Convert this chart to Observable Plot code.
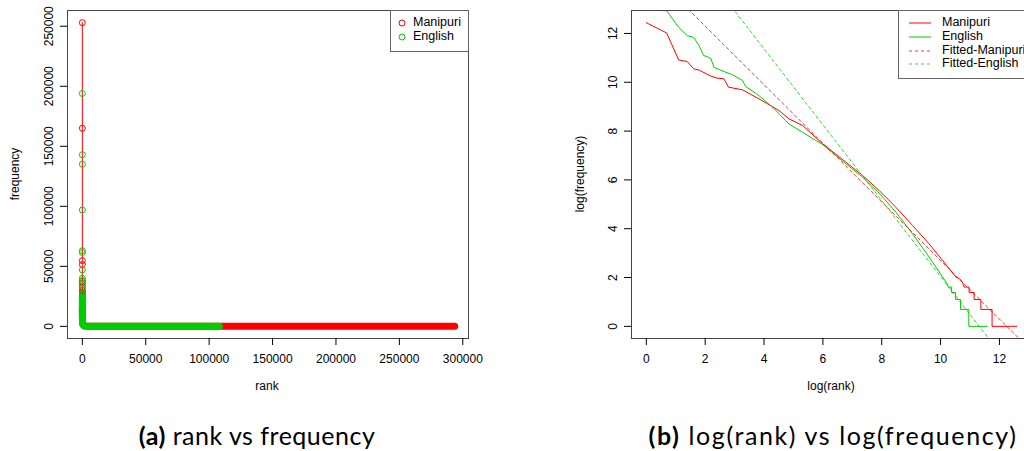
<!DOCTYPE html>
<html>
<head>
<meta charset="utf-8">
<script src="https://cdn.jsdelivr.net/npm/d3@7"></script>
<script src="https://cdn.jsdelivr.net/npm/@observablehq/plot@0.6"></script>
<style>
  html, body { margin: 0; padding: 0; background: #fff; overflow: hidden; }
  #root { position: relative; width: 1024px; height: 451px; font-family: "Liberation Sans", Arial, sans-serif; color: #000; }
  .abs { position: absolute; white-space: nowrap; line-height: 1; }
  .c { transform: translate(-50%, -50%); }
  .rot { transform: translate(-50%, -50%) rotate(-90deg); }
  .lbl { font-size: 12px; }
  .legend { position: absolute; border: 1px solid #666; background: #fff; box-sizing: border-box; }
  .caption { font-family: "Lato", "Noto Sans", sans-serif; font-size: 25px; letter-spacing: 0.5px; }
  #left { position: absolute; left: 0; top: 0; width: 512px; height: 400px; }
  #right { position: absolute; left: 512px; top: 0; width: 512px; height: 400px; overflow: hidden; }
  #left svg, #right svg { max-width: none !important; height: 400px !important; display: block; }
</style>
</head>
<body>
<div id="root">
  <div id="left"></div>
  <div id="right"></div>

  <div class="abs lbl c" style="left:267px; top:386px;">rank</div>
  <div class="abs lbl rot" style="left:15px; top:174px;">frequency</div>
  <div class="abs lbl c" style="left:831px; top:386px;">log(rank)</div>
  <div class="abs lbl rot" style="left:580px; top:174px;">log(frequency)</div>

  <div class="legend" style="left:390px; top:10px; width:79px; height:42px;"></div>
  <svg class="abs" style="left:390px; top:10px;" width="79" height="42">
    <circle cx="12" cy="13" r="3" fill="none" stroke="red" stroke-width="1"></circle>
    <circle cx="12" cy="27" r="3" fill="none" stroke="#00CD00" stroke-width="1"></circle>
  </svg>
  <div class="abs lbl" style="left:413px; top:16px; font-size:12.5px;">Manipuri</div>
  <div class="abs lbl" style="left:413px; top:30px; font-size:12.5px;">English</div>

  <div class="legend" style="left:898px; top:10px; width:140px; height:69px;"></div>
  <svg class="abs" style="left:898px; top:10px;" width="126" height="69">
    <line x1="11" x2="33" y1="13" y2="13" stroke="red" stroke-width="1"></line>
    <line x1="11" x2="33" y1="27" y2="27" stroke="#00CD00" stroke-width="1"></line>
    <line x1="11" x2="33" y1="41" y2="41" stroke="red" stroke-opacity="0.8" stroke-width="1" stroke-dasharray="3,3"></line>
    <line x1="11" x2="33" y1="54" y2="54" stroke="#00CD00" stroke-opacity="0.8" stroke-width="1" stroke-dasharray="3,3"></line>
  </svg>
  <div class="abs lbl" style="left:942px; top:16px; font-size:12.5px;">Manipuri</div>
  <div class="abs lbl" style="left:942px; top:30px; font-size:12.5px;">English</div>
  <div class="abs lbl" style="left:942px; top:44px; font-size:12.5px;">Fitted-Manipuri</div>
  <div class="abs lbl" style="left:942px; top:57px; font-size:12.5px;">Fitted-English</div>

  <div class="abs caption c" style="left:257px; top:435px;"><b>(a)</b> rank vs frequency</div>
  <div class="abs caption c" style="left:833px; top:435px; letter-spacing:1.6px;"><b>(b)</b> log(rank) vs log(frequency)</div>
</div>

<script>
// ---- Panel (a): top-ranked words (rank, frequency) ----
const manipuriTopRank = [1, 2, 3, 4, 5, 6, 7, 8, 9, 10, 11, 12];
const manipuriTopFreq = [253000, 165000, 54800, 51500, 38000, 36300, 33000, 30000, 28500, 27000, 25500, 24000];
const englishTopRank = [1, 2, 3, 4, 5, 6, 7, 8, 9, 10, 11, 12, 13, 14, 15, 16];
const englishTopFreq = [421000, 413000, 194000, 143000, 135000, 97000, 63000, 61500, 47000, 40000, 38000, 35000, 32000, 28000, 26000, 24000];

// ---- Panel (b): log(rank) vs log(frequency) ----
const manipuriLogRank = [0, 0.69, 1.10, 1.39, 1.61, 1.79, 2.20, 2.40, 2.64, 2.79, 3.27, 3.83, 4.51, 4.85, 5.31, 5.99, 6.78, 7.35, 7.91, 8.48, 9.05, 9.61, 10.07, 10.52, 10.65, 10.75, 10.80, 10.97, 10.97, 11.14, 11.14, 11.37, 11.37, 11.75, 11.75, 12.59];
const manipuriLogFreq = [12.44, 12.02, 10.91, 10.85, 10.55, 10.50, 10.25, 10.17, 10.14, 9.80, 9.69, 9.32, 8.84, 8.50, 8.23, 7.48, 6.73, 6.18, 5.57, 4.88, 4.13, 3.38, 2.70, 2.02, 1.946, 1.79, 1.609, 1.609, 1.386, 1.386, 1.0986, 1.0986, 0.693, 0.693, 0, 0];
const englishLogRank = [0, 0.69, 1.10, 1.39, 1.61, 1.79, 1.95, 2.08, 2.20, 2.30, 2.70, 2.93, 3.27, 3.38, 3.72, 3.89, 4.29, 4.85, 5.31, 5.99, 6.78, 7.35, 7.91, 8.48, 9.05, 9.61, 10.07, 10.20, 10.27, 10.37, 10.37, 10.51, 10.51, 10.68, 10.68, 10.96, 10.96, 11.59];
const englishLogFreq = [12.95, 12.93, 12.25, 11.91, 11.84, 11.50, 11.09, 11.05, 10.95, 10.61, 10.41, 10.31, 10.07, 9.82, 9.55, 9.39, 8.98, 8.29, 7.95, 7.45, 6.66, 6.11, 5.46, 4.68, 3.79, 2.84, 2.02, 1.79, 1.609, 1.609, 1.386, 1.386, 1.0986, 1.0986, 0.693, 0.693, 0, 0];

// Fitted lines: [intercept, slope]
const fittedManipuri = [14.70, -1.20];
const fittedEnglish = [17.59, -1.555];

// Tick values
const xTicksA = [0, 50000, 100000, 150000, 200000, 250000, 300000];
const yTicksA = [0, 50000, 100000, 150000, 200000, 250000];
const xTicksB = [0, 2, 4, 6, 8, 10, 12];
const yTicksB = [0, 2, 4, 6, 8, 10, 12];

const RED = "red";
const GREEN = "#00CD00";

const zip = (xs, ys) => xs.map((x, i) => ({x, y: ys[i]}));
const manipuriTop = zip(manipuriTopRank, manipuriTopFreq);
const englishTop = zip(englishTopRank, englishTopFreq);
const manipuriLog = zip(manipuriLogRank, manipuriLogFreq);
const englishLog = zip(englishLogRank, englishLogFreq);
const manipuriTail = manipuriLog.filter(d => d.x >= 3.2).map(d => ({x: Math.exp(d.x), y: Math.exp(d.y)}));
const englishTail = englishLog.filter(d => d.x >= 3.2).map(d => ({x: Math.exp(d.x), y: Math.exp(d.y)}));

const axisStyle = {fontSize: 12, fontFamily: "'Liberation Sans', Arial, sans-serif", maxWidth: "none"};

const plotA = Plot.plot({
  width: 512, height: 400,
  marginLeft: 67, marginRight: 44, marginTop: 10, marginBottom: 62,
  style: axisStyle,
  x: {domain: [-11700, 304500], ticks: xTicksA, label: null},
  y: {domain: [-10120, 263120], ticks: yTicksA, label: null},
  marks: [
    Plot.line(manipuriTop, {x: "x", y: "y", stroke: RED, strokeWidth: 1, clip: true}),
    Plot.dot(manipuriTop, {x: "x", y: "y", stroke: RED, r: 3, strokeWidth: 1, clip: true}),
    Plot.line(manipuriTail, {x: "x", y: "y", stroke: RED, strokeWidth: 7, strokeLinecap: "round", strokeLinejoin: "round", clip: true}),
    Plot.dot(englishTop, {x: "x", y: "y", stroke: GREEN, r: 3, strokeWidth: 1, clip: true}),
    Plot.line(englishTail, {x: "x", y: "y", stroke: GREEN, strokeWidth: 7, strokeLinecap: "round", strokeLinejoin: "round", clip: true}),
    Plot.frame({stroke: "#444"}),
    Plot.axisX({ticks: xTicksA, tickSize: 7, tickPadding: 9, tickFormat: d => String(d), label: null, fontSize: 12}),
    Plot.axisY({ticks: yTicksA, tickSize: 7, tickPadding: 8, tickRotate: -90, tickFormat: d => String(d), label: null, fontSize: 12})
  ]
});
document.getElementById("left").appendChild(plotA);

const xEnds = [-0.6, 13.2];
const fitLine = (coef) => xEnds.map(x => ({x, y: coef[0] + coef[1] * x}));

const plotB = Plot.plot({
  width: 530, height: 400,
  marginLeft: 119, marginRight: 11, marginTop: 10, marginBottom: 62,
  style: axisStyle,
  x: {domain: [-0.504, 13.09], ticks: xTicksB, label: null},
  y: {domain: [-0.4976, 12.94], ticks: yTicksB, label: null},
  marks: [
    Plot.line(manipuriLog, {x: "x", y: "y", stroke: RED, strokeWidth: 1, clip: true}),
    Plot.line(englishLog, {x: "x", y: "y", stroke: GREEN, strokeWidth: 1, clip: true}),
    Plot.line(fitLine(fittedManipuri), {x: "x", y: "y", stroke: RED, strokeOpacity: 0.8, strokeWidth: 1, strokeDasharray: "3,3", clip: true}),
    Plot.line(fitLine(fittedEnglish), {x: "x", y: "y", stroke: GREEN, strokeOpacity: 0.8, strokeWidth: 1, strokeDasharray: "3,3", clip: true}),
    Plot.frame({stroke: "#444"}),
    Plot.axisX({ticks: xTicksB, tickSize: 7, tickPadding: 9, tickFormat: d => String(d), label: null, fontSize: 12}),
    Plot.axisY({ticks: yTicksB, tickSize: 7, tickPadding: 8, tickRotate: -90, tickFormat: d => String(d), label: null, fontSize: 12})
  ]
});
document.getElementById("right").appendChild(plotB);
</script>
</body>
</html>
